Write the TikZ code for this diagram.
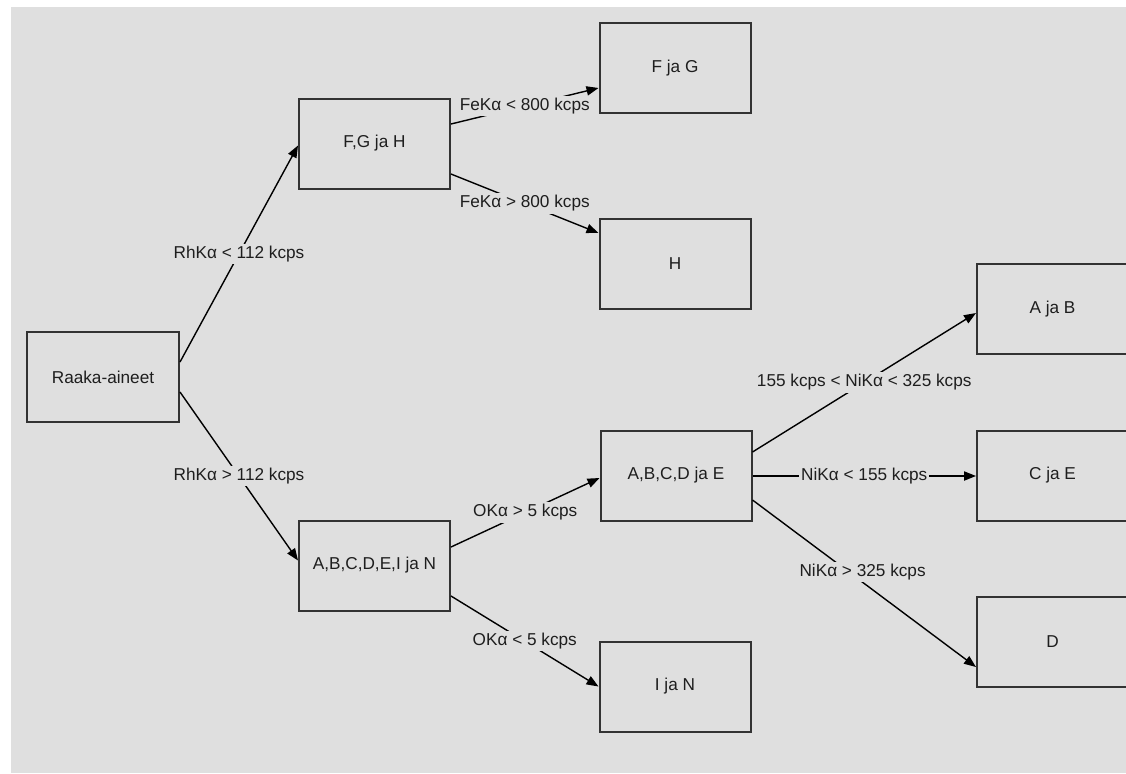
\documentclass[tikz,border=0pt]{standalone}
\usepackage{fontspec}
\setmainfont{Liberation Sans}
\usetikzlibrary{arrows.meta,calc}
\definecolor{bg}{HTML}{DFDFDF}
\definecolor{bordercol}{HTML}{333333}
\definecolor{txt}{HTML}{1E1E1E}
\begin{document}
\begin{tikzpicture}[x=0.5pt,y=-0.5pt,
  every node/.style={font=\fontsize{8.6pt}{10pt}\selectfont, text=txt},
  box/.style={draw=bordercol, line width=1pt, fill=bg, minimum width=75.5pt, minimum height=45pt, inner sep=0pt},
  conn/.style={draw=black, line width=0.7pt, -{Triangle[length=6pt,width=4.6pt]}},
  lbl/.style={fill=bg, inner sep=1pt}]
\useasboundingbox (0,0) rectangle (1126,773);
\fill[white] (0,0) rectangle (1126,773);
\fill[bg] (11,7) rectangle (1126,773);

\node[box, minimum width=76pt] (raw) at (103,377) {Raaka-aineet};
\node[box] (fgh) at (374.5,143.5) {F,G ja H};
\node[box] (fg) at (675,68) {F ja G};
\node[box] (h) at (675,264) {H};
\node[box] (abcdein) at (374.5,565.5) {A,B,C,D,E,I ja N};
\node[box] (abcde) at (676,475.5) {A,B,C,D ja E};
\node[box] (in) at (675,686.5) {I ja N};
\node[box] (ab) at (1052.5,309) {A ja B};
\node[box] (ce) at (1052.5,475.5) {C ja E};
\node[box] (d) at (1052.5,641.5) {D};

\draw[conn] ($(raw.east)+(0,-15)$) -- node[lbl]{RhKα < 112 kcps} ($(fgh.west)+(0,2)$);
\draw[conn] ($(raw.east)+(0,15)$) -- node[lbl]{RhKα > 112 kcps} ($(abcdein.west)+(0,-5)$);
\draw[conn] ($(fgh.east)+(0,-19.5)$) -- node[lbl]{FeKα < 800 kcps} ($(fg.west)+(0,20)$);
\draw[conn] ($(fgh.east)+(0,30.5)$) -- node[lbl]{FeKα > 800 kcps} ($(h.west)+(0,-31)$);
\draw[conn] ($(abcdein.east)+(0,-18.5)$) -- node[lbl]{OKα > 5 kcps} ($(abcde.west)+(0,2.5)$);
\draw[conn] ($(abcdein.east)+(0,30.5)$) -- node[lbl]{OKα < 5 kcps} ($(in.west)+(0,0)$);
\draw[conn] ($(abcde.east)+(0,-23.5)$) -- node[lbl]{155 kcps < NiKα < 325 kcps} ($(ab.west)+(0,4)$);
\draw[conn] ($(abcde.east)+(0,0.5)$) -- node[lbl]{NiKα < 155 kcps} ($(ce.west)+(0,0.5)$);
\draw[conn] ($(abcde.east)+(0,24.5)$) -- node[lbl, pos=0.43, xshift=7pt]{NiKα > 325 kcps} ($(d.west)+(0,25.5)$);
\end{tikzpicture}
\end{document}
